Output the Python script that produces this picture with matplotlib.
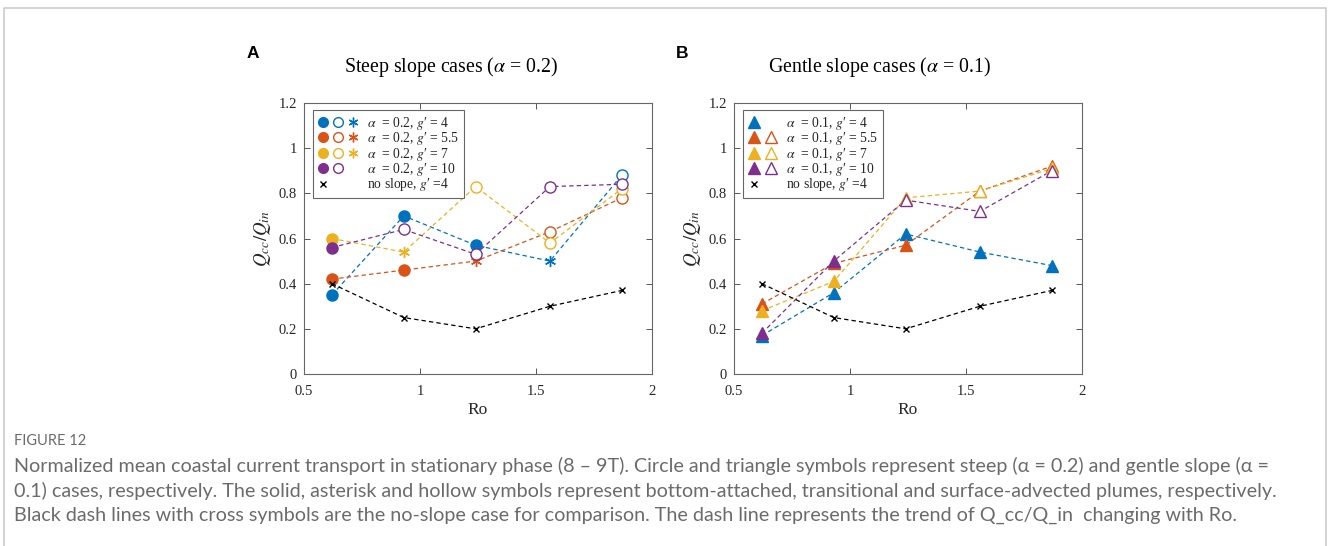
import matplotlib
matplotlib.use("Agg")
import matplotlib.pyplot as plt
from matplotlib.lines import Line2D
from matplotlib.legend_handler import HandlerTuple

plt.rcParams['font.family'] = ['Liberation Serif', 'DejaVu Serif']
plt.rcParams['mathtext.fontset'] = 'stix'

# ---------------- data ----------------
ro = [0.62, 0.93, 1.24, 1.56, 1.87]

# steep slope (alpha = 0.2)
steep_g4 = [0.35, 0.70, 0.57, 0.50, 0.88]
steep_g4_kind = ['s', 's', 's', 'a', 'h']
steep_g55 = [0.42, 0.46, 0.50, 0.63, 0.78]
steep_g55_kind = ['s', 's', 'a', 'h', 'h']
steep_g7 = [0.60, 0.54, 0.83, 0.58, 0.82]
steep_g7_kind = ['s', 'a', 'h', 'h', 'h']
steep_g10 = [0.56, 0.64, 0.53, 0.83, 0.84]
steep_g10_kind = ['s', 'h', 'h', 'h', 'h']

# gentle slope (alpha = 0.1)
gentle_g4 = [0.17, 0.36, 0.62, 0.54, 0.48]
gentle_g4_kind = ['s', 's', 's', 's', 's']
gentle_g55 = [0.31, 0.49, 0.57, 0.81, 0.92]
gentle_g55_kind = ['s', 's', 's', 'h', 'h']
gentle_g7 = [0.28, 0.41, 0.78, 0.81, 0.91]
gentle_g7_kind = ['s', 's', 'h', 'h', 'h']
gentle_g10 = [0.18, 0.50, 0.77, 0.72, 0.90]
gentle_g10_kind = ['s', 's', 'h', 'h', 'h']

# no slope reference
noslope_g4 = [0.40, 0.25, 0.20, 0.30, 0.37]

g_labels = ['4', '5.5', '7', '10']
colors = ['#0072BD', '#D95319', '#EDB120', '#7E2F8E']

ASTER = (6, 2, 0)
TEXTC = '#262626'

fig = plt.figure(figsize=(13.28, 5.46), dpi=100)
W, H = 1328.0, 546.0

def draw_panel(ax, series, kinds, base_marker, alpha_txt, title, label, show_aster, title_x, label_x):
    for vals, kk, c in zip(series, kinds, colors):
        ax.plot(ro, vals, linestyle=(0, (3.5, 2.5)), color=c, lw=0.9, zorder=2)
        for kind in ['s', 'a', 'h']:
            xs = [x for x, k in zip(ro, kk) if k == kind]
            ys = [y for y, k in zip(vals, kk) if k == kind]
            if not xs:
                continue
            if kind == 's':
                ax.plot(xs, ys, linestyle='none', marker=base_marker, ms=8 if base_marker == 'o' else 9,
                        mfc=c, mec=c, zorder=3)
            elif kind == 'h':
                ax.plot(xs, ys, linestyle='none', marker=base_marker, ms=8 if base_marker == 'o' else 9,
                        mfc='white', mec=c, mew=1.0, zorder=3)
            else:
                ax.plot(xs, ys, linestyle='none', marker=ASTER, ms=8, mec=c, mew=1.0, zorder=3)
    ax.plot(ro, noslope_g4, linestyle=(0, (3.5, 2.5)), color='black', lw=0.9,
            marker='x', ms=5, mew=1.0, zorder=3)

    ax.set_xlim(0.5, 2)
    ax.set_ylim(0, 1.2)
    ax.set_xticks([0.5, 1, 1.5, 2])
    ax.set_xticklabels(['0.5', '1', '1.5', '2'])
    ax.set_yticks([0, 0.2, 0.4, 0.6, 0.8, 1.0, 1.2])
    ax.set_yticklabels(['0', '0.2', '0.4', '0.6', '0.8', '1', '1.2'])
    ax.tick_params(direction='in', top=True, right=True, length=4, width=0.7,
                   colors='#555555', labelcolor=TEXTC, labelsize=10.5)
    ax.tick_params(axis='x', pad=8)
    ax.tick_params(axis='y', pad=5)
    for s in ax.spines.values():
        s.set_color('#666666')
        s.set_linewidth(0.8)
    ax.set_xlabel('Ro', fontsize=12.5, color=TEXTC, labelpad=3)
    ax.set_ylabel('$Q_{cc}/Q_{in}$', fontsize=13.5, color=TEXTC, labelpad=4)
    fig.text(title_x / W, 1 - 67 / H, title, fontsize=14.3, color='black', ha='center', va='center')
    fig.text(label_x / W, 1 - 53 / H, label, fontsize=12.5, fontweight='bold',
             family=['Liberation Sans', 'DejaVu Sans'], ha='left', va='center')

    # legend
    blank = Line2D([], [], linestyle='none')
    handles = []
    texts = []
    ms = 7 if base_marker == 'o' else 8
    for i, (c, g) in enumerate(zip(colors, g_labels)):
        solid = Line2D([], [], linestyle='none', marker=base_marker, ms=ms, mfc=c, mec=c)
        hollow = Line2D([], [], linestyle='none', marker=base_marker, ms=ms, mfc='white', mec=c, mew=1.0)
        aster = Line2D([], [], linestyle='none', marker=ASTER, ms=ms, mec=c, mew=1.0)
        if show_aster:
            if i < 3:
                handles.append((solid, hollow, aster))
            else:
                handles.append((solid, hollow, blank))
        else:
            if i == 0:
                handles.append((solid, blank))
            else:
                handles.append((solid, hollow))
        texts.append("$\\alpha$  = %s, $g$\u2032 = %s" % (alpha_txt, g))
    xm = Line2D([], [], linestyle='none', marker='x', ms=5, mec='black', mew=1.0)
    handles.append((xm, blank, blank) if show_aster else (xm, blank))
    texts.append("no slope, $g$\u2032 =4")
    leg = ax.legend(handles, texts, loc='upper left', bbox_to_anchor=(0.026, 0.974),
                    borderaxespad=0, fontsize=9.8, frameon=True, fancybox=False,
                    edgecolor='#666666', framealpha=1,
                    handler_map={tuple: HandlerTuple(ndivide=None, pad=0.3)},
                    handlelength=3.0 if show_aster else 2.2, handletextpad=0.6,
                    labelspacing=-0.12, borderpad=0.35)
    leg.get_frame().set_linewidth(0.8)
    for t in leg.get_texts():
        t.set_color(TEXTC)

ax1 = fig.add_axes([304 / W, 1 - 374 / H, 348 / W, 271 / H])
ax2 = fig.add_axes([734 / W, 1 - 374 / H, 348 / W, 271 / H])

draw_panel(ax1, [steep_g4, steep_g55, steep_g7, steep_g10],
           [steep_g4_kind, steep_g55_kind, steep_g7_kind, steep_g10_kind],
           'o', '0.2', r'Steep slope cases ($\alpha$ = 0.2)', 'A', True, 451, 247)
draw_panel(ax2, [gentle_g4, gentle_g55, gentle_g7, gentle_g10],
           [gentle_g4_kind, gentle_g55_kind, gentle_g7_kind, gentle_g10_kind],
           '^', '0.1', r'Gentle slope cases ($\alpha$ = 0.1)', 'B', False, 880, 676)

# outer frame
fx0, fx1, fy1 = 4 / W, 1326 / W, 1 - 8 / H
fig.add_artist(Line2D([fx0, fx0, fx1, fx1], [0, fy1, fy1, 0], transform=fig.transFigure,
                      color='#cccccc', lw=1.2))

# caption
capfam = ['Lato', 'DejaVu Sans']
capc = '#6b6b6b'
fig.text(14 / W, 1 - 441 / H, 'FIGURE 12', family=capfam, fontsize=10.5, color=capc,
         va='center', ha='left')
cap_lines = [
    'Normalized mean coastal current transport in stationary phase (8 \u2013 9T). Circle and triangle symbols represent steep (\u03b1 = 0.2) and gentle slope (\u03b1 =',
    '0.1) cases, respectively. The solid, asterisk and hollow symbols represent bottom-attached, transitional and surface-advected plumes, respectively.',
    'Black dash lines with cross symbols are the no-slope case for comparison. The dash line represents the trend of Q_cc/Q_in  changing with Ro.',
]
for i, line in enumerate(cap_lines):
    fig.text(14 / W, 1 - (466 + 24.5 * i) / H, line, family=capfam, fontsize=14.2,
             color=capc, va='center', ha='left')

fig.savefig('out.png', dpi=100)
